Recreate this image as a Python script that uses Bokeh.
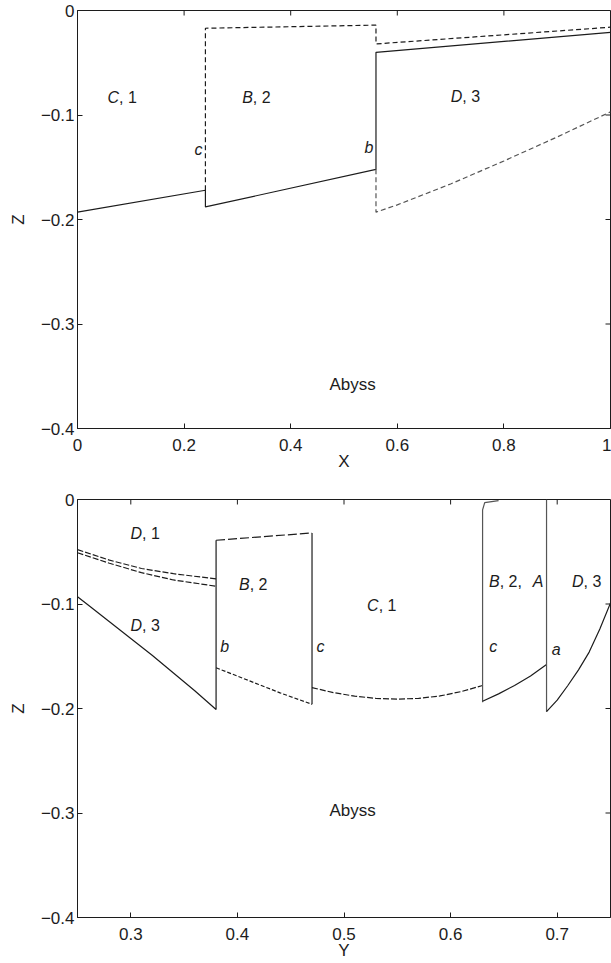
from bokeh.plotting import figure
from bokeh.layouts import column
from bokeh.models import FixedTicker, Range1d
from bokeh.embed import file_html
from bokeh.resources import INLINE
from bokeh.core.properties import value

FONT = "Liberation Sans"
INK = "#1c1c1c"
GREY = "#555555"

# ---------------- axes / ticks ----------------
z_range = (-0.4, 0.0)
z_ticks = [0, -0.1, -0.2, -0.3, -0.4]
z_tick_labels = ["0", "\u22120.1", "\u22120.2", "\u22120.3", "\u22120.4"]
x_range_top = (0.0, 1.0)
x_ticks_top = [0, 0.2, 0.4, 0.6, 0.8, 1.0]
x_tick_labels_top = ["0", "0.2", "0.4", "0.6", "0.8", "1"]
y_range_bot = (0.25, 0.75)
y_ticks_bot = [0.3, 0.4, 0.5, 0.6, 0.7]
y_tick_labels_bot = ["0.3", "0.4", "0.5", "0.6", "0.7"]

# ---------------- top panel (Z vs X) ----------------
top_solid_x = [0.0, 0.24, 0.24, 0.56, 0.56, 1.0]
top_solid_z = [-0.193, -0.172, -0.188, -0.152, -0.040, -0.021]
top_dash_x = [0.24, 0.24, 0.56, 0.56, 1.0]
top_dash_z = [-0.172, -0.017, -0.014, -0.032, -0.016]
top_lower_x = [0.56, 0.56, 0.60, 0.70, 0.80, 0.90, 1.0]
top_lower_z = [-0.152, -0.193, -0.186, -0.166, -0.144, -0.121, -0.097]

top_region_letters = ["C", "B", "D"]
top_region_rest = [", 1", ", 2", ", 3"]
top_region_x = [0.078, 0.329, 0.722]
top_region_z = [-0.083, -0.083, -0.082]
top_point_letters = ["c", "b"]
top_point_x = [0.227, 0.547]
top_point_z = [-0.133, -0.131]
top_abyss = (0.516, -0.358)

# ---------------- bottom panel (Z vs Y) ----------------
d1_upper_y = [0.25, 0.28, 0.31, 0.34, 0.38]
d1_upper_z = [-0.048, -0.058, -0.066, -0.071, -0.076]
d1_lower_y = [0.25, 0.28, 0.31, 0.34, 0.38]
d1_lower_z = [-0.051, -0.061, -0.070, -0.077, -0.083]
d3_left_y = [0.25, 0.26, 0.28, 0.30, 0.32, 0.34, 0.36, 0.38, 0.38]
d3_left_z = [-0.093, -0.101, -0.117, -0.133, -0.149, -0.166, -0.183, -0.201, -0.039]
b2_top_y = [0.38, 0.47]
b2_top_z = [-0.039, -0.032]
edge_b2_y = [0.47, 0.47]
edge_b2_z = [-0.032, -0.196]
b2_bot_y = [0.38, 0.40, 0.42, 0.44, 0.47]
b2_bot_z = [-0.161, -0.169, -0.177, -0.185, -0.196]
c1_bot_y = [0.47, 0.49, 0.51, 0.53, 0.55, 0.57, 0.59, 0.61, 0.63]
c1_bot_z = [-0.180, -0.1848, -0.1882, -0.1903, -0.191, -0.1903, -0.188, -0.1838, -0.178]
edge_c_y = [0.645, 0.632, 0.630, 0.630]
edge_c_z = [-0.001, -0.003, -0.010, -0.194]
b2a_bot_y = [0.63, 0.645, 0.66, 0.675, 0.69]
b2a_bot_z = [-0.193, -0.186, -0.178, -0.169, -0.158]
edge_a_y = [0.69, 0.69]
edge_a_z = [0.0, -0.203]
d3_right_y = [0.69, 0.70, 0.71, 0.72, 0.73, 0.74, 0.75]
d3_right_z = [-0.203, -0.192, -0.178, -0.163, -0.146, -0.124, -0.099]

bot_region_letters = ["D", "B", "D", "C", "B", "D"]
bot_region_rest = [", 1", ", 2", ", 3", ", 1", ", 2,", ", 3"]
bot_region_y = [0.3105, 0.4115, 0.3105, 0.5325, 0.646, 0.7247]
bot_region_z = [-0.033, -0.081, -0.121, -0.101, -0.078, -0.078]
bot_point_letters = ["b", "c", "c", "a", "A"]
bot_point_y = [0.388, 0.478, 0.640, 0.699, 0.682]
bot_point_z = [-0.141, -0.141, -0.141, -0.144, -0.078]
bot_abyss = (0.508, -0.298)

LABEL_SIZE = "16px"
TICK_SIZE = "17px"
FRAME_W = 533
LEFT = 77
TICK_LEN = 5


def make_fig(xr, top_border, frame_h, bottom_border, xticks, xlabels, xname):
    p = figure(width=LEFT + FRAME_W + 1, height=top_border + frame_h + bottom_border,
               x_range=Range1d(*xr), y_range=Range1d(*z_range),
               output_backend="svg", toolbar_location=None,
               min_border_left=LEFT, min_border_right=1,
               min_border_top=top_border, min_border_bottom=bottom_border)
    p.xgrid.visible = False
    p.ygrid.visible = False
    p.outline_line_color = INK
    p.outline_line_width = 1
    p.background_fill_color = "white"
    p.border_fill_color = "white"

    p.xaxis.ticker = FixedTicker(ticks=xticks)
    p.xaxis.major_label_overrides = dict(zip(xticks, xlabels))
    p.yaxis.ticker = FixedTicker(ticks=z_ticks)
    p.yaxis.major_label_overrides = dict(zip(z_ticks, z_tick_labels))
    for ax in (p.xaxis[0], p.yaxis[0]):
        ax.major_tick_in = TICK_LEN
        ax.major_tick_out = 0
        ax.minor_tick_line_color = None
        ax.axis_line_color = INK
        ax.major_tick_line_color = INK
        ax.major_label_text_font = FONT
        ax.major_label_text_font_size = TICK_SIZE
        ax.major_label_text_color = INK
        ax.axis_label_text_font = FONT
        ax.axis_label_text_font_size = "17px"
        ax.axis_label_text_font_style = "normal"
        ax.axis_label_text_color = INK
    p.xaxis.axis_label = xname
    p.yaxis.axis_label = "Z"
    p.xaxis.major_label_standoff = 10
    p.xaxis.axis_label_standoff = -2
    p.yaxis.major_label_standoff = 3
    p.yaxis.axis_label_standoff = 10

    # inward ticks on the top and right edges of the box
    dz = (z_range[1] - z_range[0]) * TICK_LEN / frame_h
    dx = (xr[1] - xr[0]) * TICK_LEN / FRAME_W
    p.segment(x0=xticks, y0=[z_range[1]] * len(xticks), x1=xticks,
              y1=[z_range[1] - dz] * len(xticks), line_color=INK, line_width=1)
    p.segment(x0=[xr[1]] * len(z_ticks), y0=z_ticks, x1=[xr[1] - dx] * len(z_ticks),
              y1=z_ticks, line_color=INK, line_width=1)
    return p


def add_region_labels(p, xs, zs, letters, rests):
    p.text(x=xs, y=zs, text=letters, text_align="right", text_baseline="middle",
           text_font=value(FONT), text_font_size=LABEL_SIZE, text_font_style="italic",
           text_color=INK)
    p.text(x=xs, y=zs, text=rests, text_align="left", text_baseline="middle",
           text_font=value(FONT), text_font_size=LABEL_SIZE, text_color=INK)


def add_point_labels(p, xs, zs, letters):
    p.text(x=xs, y=zs, text=letters, text_align="center", text_baseline="middle",
           text_font=value(FONT), text_font_size=LABEL_SIZE, text_font_style="italic",
           text_color=INK)


# ---------- top figure ----------
p1 = make_fig(x_range_top, 10, 418, 54, x_ticks_top, x_tick_labels_top, "X")
p1.line(top_solid_x, top_solid_z, line_color=INK, line_width=1.2)
p1.line(top_dash_x, top_dash_z, line_color=INK, line_width=1.2, line_dash="5 3")
p1.line(top_lower_x, top_lower_z, line_color=GREY, line_width=1.2, line_dash="5 3")
add_region_labels(p1, top_region_x, top_region_z, top_region_letters, top_region_rest)
add_point_labels(p1, top_point_x, top_point_z, top_point_letters)
p1.text(x=[top_abyss[0]], y=[top_abyss[1]], text=["Abyss"], text_align="center",
        text_baseline="middle", text_font=value(FONT), text_font_size="17px", text_color=INK)

# ---------- bottom figure ----------
p2 = make_fig(y_range_bot, 17, 419, 44, y_ticks_bot, y_tick_labels_bot, "Y")
p2.line(d1_upper_y, d1_upper_z, line_color=INK, line_width=1.2, line_dash="6 2")
p2.line(d1_lower_y, d1_lower_z, line_color=INK, line_width=1.2, line_dash="6 2")
p2.line(d3_left_y, d3_left_z, line_color=INK, line_width=1.2)
p2.line(b2_top_y, b2_top_z, line_color=INK, line_width=1.2, line_dash="9 3")
p2.line(edge_b2_y, edge_b2_z, line_color=INK, line_width=1.2)
p2.line(b2_bot_y, b2_bot_z, line_color=INK, line_width=1.2, line_dash="4 2")
p2.line(c1_bot_y, c1_bot_z, line_color=INK, line_width=1.2, line_dash="6 2")
p2.line(edge_c_y, edge_c_z, line_color=GREY, line_width=1.2)
p2.line(b2a_bot_y, b2a_bot_z, line_color=INK, line_width=1.2)
p2.line(edge_a_y, edge_a_z, line_color=GREY, line_width=1.2)
p2.line(d3_right_y, d3_right_z, line_color=INK, line_width=1.2)
add_region_labels(p2, bot_region_y, bot_region_z, bot_region_letters, bot_region_rest)
add_point_labels(p2, bot_point_y, bot_point_z, bot_point_letters)
p2.text(x=[bot_abyss[0]], y=[bot_abyss[1]], text=["Abyss"], text_align="center",
        text_baseline="middle", text_font=value(FONT), text_font_size="17px", text_color=INK)

layout = column(p1, p2, spacing=0)
open("out.html", "w").write(file_html(layout, INLINE))
